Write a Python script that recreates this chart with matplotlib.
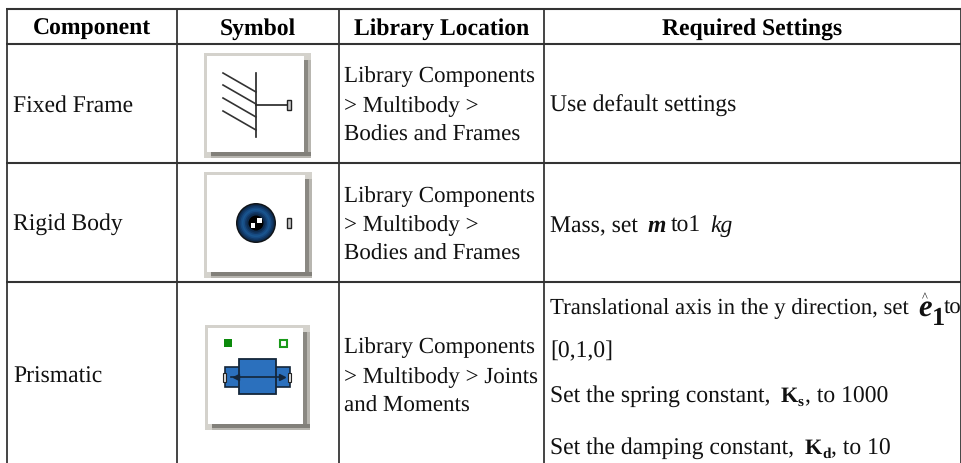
# component table with simulink-style symbols
import numpy as np
import matplotlib.pyplot as plt
from matplotlib.patches import Rectangle, Circle

plt.rcParams['font.family'] = ['Liberation Serif', 'DejaVu Serif']
plt.rcParams['text.hinting'] = 'none'

headers = ["Component", "Symbol", "Library Location", "Required Settings"]
components = ["Fixed Frame", "Rigid Body", "Prismatic"]
library = [["Library Components", "> Multibody >", "Bodies and Frames"],
           ["Library Components", "> Multibody >", "Bodies and Frames"],
           ["Library Components", "> Multibody > Joints", "and Moments"]]

col_x = [7, 177, 339, 544, 961]
row_y = [9, 44, 163, 282, 463]
FS = 17
INK = '#111111'

fig = plt.figure(figsize=[9.62, 4.63], dpi=100)
ax = fig.add_axes([0, 0, 1, 1])
ax.set_xlim(0, 962)
ax.set_ylim(463, 0)
ax.axis('off')

# grid
for x in col_x:
    ax.plot([x, x], [row_y[0], row_y[-1]], color='#444444', lw=1.4, solid_capstyle='butt')
for y in row_y[:-1]:
    ax.plot([col_x[0] - 1, col_x[-1] + 1], [y, y], color='#333333', lw=1.5, solid_capstyle='butt')

# header
for i, h in enumerate(headers):
    ax.text((col_x[i] + col_x[i + 1]) / 2, 35, h, ha='center', va='baseline',
            fontsize=17, fontweight='bold', color='black')


def put(x, y, s, size=FS, **kw):
    ax.text(x, y, s, va='baseline', fontsize=size, color=INK, **kw)


# first column and library column
comp_y = [112, 230, 383]
lib_y = [[82, 112, 141], [202, 231, 260], [353, 383, 412]]
for i in range(3):
    put(13, comp_y[i], components[i])
    for j in range(3):
        put(344, lib_y[i][j], library[i][j], size=16.6)

# required settings
put(550, 112, "Use default settings")
put(550, 232, "Mass, set")
put(648, 232, "m", fontweight='bold', style='italic')
put(671, 232, "to1")
put(710, 232, "kg", style='italic')

put(550, 314, "Translational axis in the y direction, set", size=16.4)
put(918, 316, "e", size=22, fontweight='bold', style='italic')
put(921.5, 301, "^", size=9)
put(932, 325, "1", size=19, fontweight='bold')
put(944, 314, "to", size=16.4)
put(550, 357, "[0,1,0]")

put(550, 402, "Set the spring constant,")
put(781, 402, "K", size=16, fontweight='bold')
put(798, 406, "s", size=11, fontweight='bold')
put(805, 402, ", to 1000")

put(550, 454, "Set the damping constant,")
put(805, 454, "K", size=16, fontweight='bold')
put(822, 458, "d", size=11, fontweight='bold')
put(831, 454, ", to 10")


def icon_box(x0, y0, x1, y1):
    # raised frame: outer x0..x1, white inside, soft shadow right and bottom
    ax.add_patch(Rectangle((x0, y0), x1 - x0, y1 - y0, color='#d4d2cc', lw=0))
    ax.add_patch(Rectangle((x1 - 7, y0 + 7), 7, y1 - y0 - 7, color='#b8b6b0', lw=0))
    ax.add_patch(Rectangle((x1 - 7, y0 + 7), 4, y1 - y0 - 7, color='#8a8882', lw=0))
    ax.add_patch(Rectangle((x0 + 7, y1 - 6), x1 - x0 - 7, 6, color='#b8b6b0', lw=0))
    ax.add_patch(Rectangle((x0 + 7, y1 - 6), x1 - x0 - 7, 4, color='#82807a', lw=0))
    ax.add_patch(Rectangle((x0 + 3, y0 + 3), x1 - x0 - 10, y1 - y0 - 9, color='white', lw=0))


# fixed frame symbol
icon_box(204, 53, 311, 158)
ax.plot([256, 256], [73, 137], color='#222222', lw=1.2)
for y in [73, 85, 98, 111]:
    ax.plot([223, 256], [y, y + 19], color='#333333', lw=1.2)
ax.plot([256, 287], [105, 105], color='#222222', lw=1.2)
ax.add_patch(Rectangle((287, 100), 4, 10, fc='#cccccc', ec='#222222', lw=1))

# rigid body symbol
icon_box(204, 172, 312, 278)
ax.add_patch(Circle((256, 223), 20, fc='#101418', lw=0))
ring_r = [18.5, 17, 15.5, 14, 12.5, 11, 9.5]
ring_c = ['#0e2c50', '#123a68', '#174a82', '#1a568f', '#174a82', '#123a68', '#0e2c50']
for r, c in zip(ring_r, ring_c):
    ax.add_patch(Circle((256, 223), r, fc=c, lw=0))
ax.add_patch(Circle((256, 223), 7.5, fc='black', lw=0))
ax.add_patch(Rectangle((257, 218), 5, 5, color='white', lw=0))
ax.add_patch(Rectangle((251, 223), 4.5, 5, color='white', lw=0))
ax.add_patch(Rectangle((287, 218), 4, 10, fc='#cccccc', ec='#222222', lw=1))

# prismatic symbol
icon_box(205, 325, 310, 430)
ax.add_patch(Rectangle((224, 339), 8, 8, color='#0b8a0b', lw=0))
ax.add_patch(Rectangle((280, 339.5), 7, 7, fc='white', ec='#1a9a1a', lw=1.5))
ax.add_patch(Rectangle((225, 367), 65, 20, fc='#2b70bd', ec='#14263a', lw=1.2))
ax.add_patch(Rectangle((239, 359), 37, 35, fc='#2b70bd', ec='#14263a', lw=1.3))
ax.plot([231, 283], [377, 377], color='#14263a', lw=1.2)
ax.add_patch(Rectangle((223, 373), 3.5, 9, fc='#dddddd', ec='#222222', lw=0.8))
ax.add_patch(Rectangle((288, 373), 3.5, 9, fc='#dddddd', ec='#222222', lw=0.8))
ax.plot([236], [377], marker='<', ms=4, color='#14263a')
ax.plot([282], [377], marker='>', ms=4, color='#14263a')

plt.savefig("out.png", dpi=100)
